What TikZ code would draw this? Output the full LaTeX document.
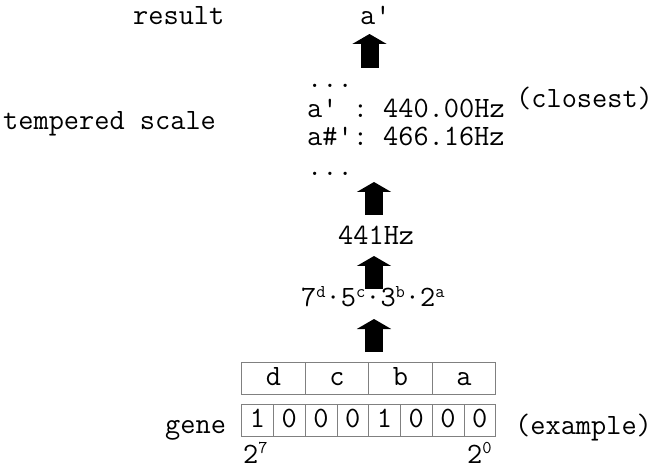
\documentclass[tikz,border=0pt]{standalone}
\usepackage{fontspec}
\setmonofont{Latin Modern Mono}
\usetikzlibrary{arrows.meta}
\newcommand\sups[1]{\raisebox{0.75ex}{\fontsize{18}{18}\selectfont #1}}
\begin{document}
\begin{tikzpicture}[x=1pt,y=-1pt,
  every node/.style={font=\ttfamily\fontsize{29.5}{34}\selectfont, inner sep=0pt},
  txt/.style={anchor=base west},
  blockarrow/.style={line width=18pt, line cap=butt,
    -{Triangle[length=10pt,width=34pt]}},
  cell/.style={draw=black!50, line width=0.9pt, text height=14pt, text depth=0pt,
    minimum height=31.6pt, anchor=center},
  wide/.style={cell, minimum width=63.5pt},
  bit/.style={cell, minimum width=31.75pt}]
\useasboundingbox (0,0) rectangle (653,470);

% labels on the left and right
\node[txt] (lres) at (133,25) {result};
\node[txt] (ltemp) at (3,130) {tempered scale};
\node[txt] (lgene) at (165,433) {gene};
\node[txt] (lclose) at (516,108) {(closest)};
\node[txt] (lex) at (515,434) {(example)};

% result
\node[txt] (res) at (360,25) {a'};

% tempered scale excerpt
\node[txt] (dots1) at (307,88) {...};
\node[txt] (la) at (307,117.5) {a' : 440.00Hz};
\node[txt] (lais) at (307,146) {a\#': 466.16Hz};
\node[txt] (dots2) at (307,175.5) {...};

% frequency and formula
\node[txt] (freq) at (338,245) {441Hz};
\node[txt] (form) at (301,306.7) {7\sups{d}·5\sups{c}·3\sups{b}·2\sups{a}};

% gene fields
\node[wide] (fd) at (273.45,378.5) {d};
\node[wide] (fc) at (336.95,378.5) {c};
\node[wide] (fb) at (400.45,378.5) {b};
\node[wide] (fa) at (463.95,378.5) {a};

% gene bits
\foreach \v [count=\i] in {1,0,0,0,1,0,0,0}
  \node[bit] (b\i) at ({241.7+31.75*(\i-0.5)},420.15) {\v};

\node[txt] (p7) at (243,463) {2\sups{7}};
\node[txt] (p0) at (467,463) {2\sups{0}};

% arrow end points
\coordinate (a1s) at (369.5,68);  \coordinate (a1e) at (369.5,34);
\coordinate (a2s) at (374,215);   \coordinate (a2e) at (374,182);
\coordinate (a3s) at (374,289);   \coordinate (a3e) at (374,256);
\coordinate (a4s) at (374,352);   \coordinate (a4e) at (374,319);

\draw[blockarrow] (a1s) -- (a1e);
\draw[blockarrow] (a2s) -- (a2e);
\draw[blockarrow] (a3s) -- (a3e);
\draw[blockarrow] (a4s) -- (a4e);
\end{tikzpicture}
\end{document}
